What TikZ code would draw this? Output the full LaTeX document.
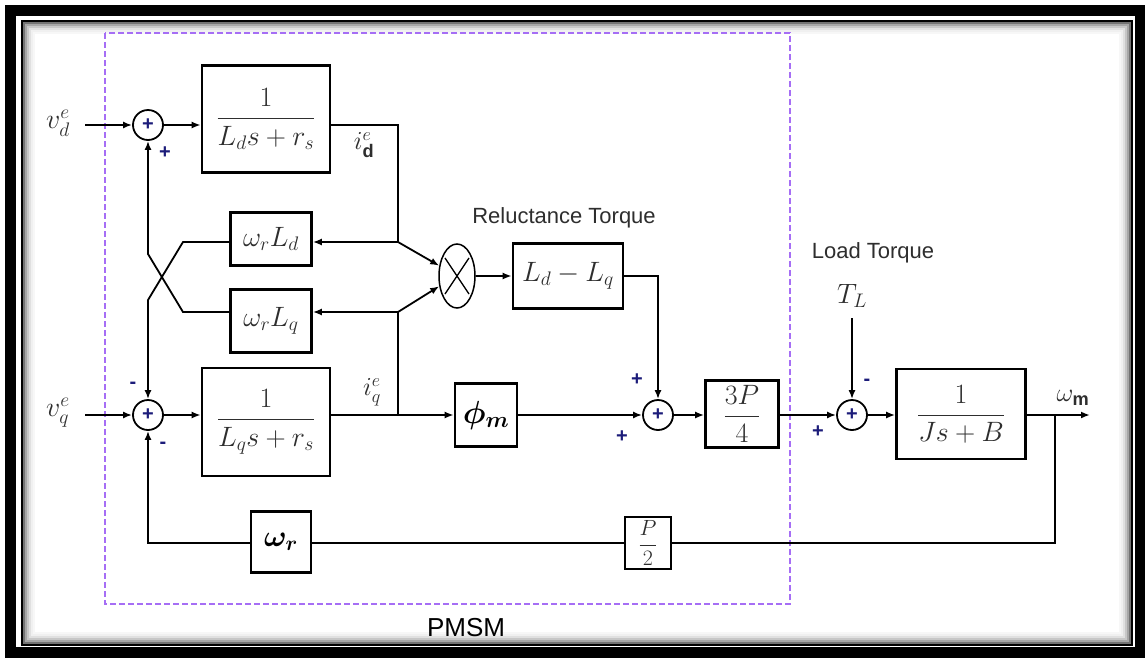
\RequirePackage{fix-cm}
\documentclass[tikz,border=0pt]{standalone}
\usepackage{amsmath}
\usepackage{fontspec}
\newfontfamily\arialf{Liberation Sans}
\usetikzlibrary{arrows.meta,shapes.geometric}
\newcommand\setfs[1]{\fontsize{#1}{#1}\selectfont}
\definecolor{pviolet}{HTML}{A66EF5}
\definecolor{signblue}{HTML}{1C1C7A}
\definecolor{txtgray}{HTML}{2E2E2E}
\tikzset{
 blk/.style={draw, line width=2.6pt, inner sep=0pt, text=txtgray, font=\setfs{28}},
 sumj/.style={draw, circle, line width=1.8pt, minimum size=30pt, inner sep=0pt, font=\arialf\bfseries\setfs{20}, text=signblue},
 conn/.style={line width=1.8pt},
 arr/.style={conn, -{Latex[length=9pt,width=7pt]}},
 sign/.style={font=\arialf\bfseries\setfs{20}, text=signblue, inner sep=0pt},
 lbl/.style={text=txtgray, font=\setfs{28}, inner sep=0pt},
 sans/.style={font=\arialf\setfs{22}, text=txtgray, inner sep=0pt},
}
\begin{document}
\begin{tikzpicture}[x=1pt,y=-1pt]
\useasboundingbox (0,0) rectangle (1145,659);
\fill[white] (0,0) rectangle (1145,659);
% frame with inner shadow
\foreach \i/\c in {0/55,2/35,4/22,6/12,8/6,10/3}
  \draw[line width=2pt, black!\c] (24+\i,23+\i) rectangle (1130-\i,643-\i);
\draw[line width=2pt] (22,21) rectangle (1132,645);
\draw[line width=11pt] (10.5,10.5) rectangle (1140,652.5);

% PMSM boundary
\draw[pviolet, line width=1.5pt, dash pattern=on 6pt off 3pt] (105,33) rectangle (790,604);

% summing junctions
\node[sumj] (s1) at (148,125) {+};
\node[sumj] (s2) at (148,415) {+};
\node[sumj] (s3) at (658,415) {+};
\node[sumj] (s4) at (852,415) {+};

% blocks
\node[blk, minimum width=128pt, minimum height=107pt] (b1) at (266,119) {$\dfrac{1}{L_d s+r_s}$};
\node[blk, minimum width=128pt, minimum height=108pt] (b2) at (266,422) {$\dfrac{1}{L_q s+r_s}$};
\node[blk, minimum width=81pt, minimum height=53pt] (wLd) at (271,239) {$\omega_r L_d$};
\node[blk, minimum width=81pt, minimum height=63pt] (wLq) at (271,321) {$\omega_r L_q$};
\node[draw, ellipse, line width=1.5pt, minimum width=36pt, minimum height=64pt, inner sep=0pt] (mult) at (457,276) {};
\draw[line width=1.3pt] (mult.center) ++(-12,-18) -- ++(24,36);
\draw[line width=1.3pt] (mult.center) ++(12,-18) -- ++(-24,36);
\node[blk, minimum width=110pt, minimum height=65pt] (LdLq) at (568,276) {$L_d-L_q$};
\node[blk, minimum width=62pt, minimum height=63pt, text=black, font=\setfs{32}] (phi) at (486,415) {$\boldsymbol{\phi_m}$};
\node[blk, minimum width=73pt, minimum height=67pt] (P34) at (742,414) {$\dfrac{3P}{4}$};
\node[blk, minimum width=129pt, minimum height=90pt] (J) at (961,414) {$\dfrac{1}{Js+B}$};
\node[blk, line width=2.8pt, minimum width=46pt, minimum height=52pt, font=\setfs{22}] (P2) at (648,543) {$\dfrac{P}{2}$};
\node[blk, minimum width=60pt, minimum height=61pt, text=black, font=\setfs{30}] (wr) at (281,542) {$\boldsymbol{\omega_r}$};

% inputs
\node[lbl] (vd) at (58,123) {$v^e_d$};
\node[lbl] (vq) at (58,413) {$v^e_q$};
\coordinate (vdin) at (85,125);
\coordinate (vqin) at (85,415);
\draw[arr] (vdin) -- (s1.west);
\draw[arr] (vqin) -- (s2.west);

% d path
\coordinate (A) at (398,242);
\coordinate (B) at (398,312);
\coordinate (Q) at (398,415);
\draw[arr] (s1.east) -- (s1 -| b1.west);
\draw[conn] (b1.east |- s1) -- (398,125) -- (A);
\draw[arr] (A) -- (A -| wLd.east);
\draw[arr] (A) -- (mult.150);
\draw[arr] (s2.east) -- (s2 -| b2.west);
\draw[arr] (b2.east |- s2) -- (phi.west);
\draw[conn] (Q) -- (B);
\draw[arr] (B) -- (B -| wLq.east);
\draw[arr] (B) -- (mult.210);

% cross coupling
\draw[arr] (wLd.west |- A) -- (183,242) -- (148,300) -- (s2.north);
\draw[arr] (wLq.west |- B) -- (183,312) -- (148,254) -- (s1.south);

% torque
\draw[arr] (mult.east) -- (LdLq.west);
\draw[arr] (LdLq.east) -- (s3 |- LdLq.east) -- (s3.north);
\draw[arr] (phi.east) -- (s3.west);
\draw[arr] (s3.east) -- (P34.west |- s3);
\draw[arr] (P34.east |- s4) -- (s4.west);
\node[lbl] (TL) at (852,296) {$T_L$};
\coordinate (TLin) at (852,318);
\draw[arr] (TLin) -- (s4.north);
\draw[arr] (s4.east) -- (J.west |- s4);
\coordinate (out) at (1090,415);
\coordinate (br) at (1055,415);
\draw[arr] (J.east |- s4) -- (out);

% feedback
\draw[conn] (br) -- (1055,543) -- (P2.east |- 0,543);
\draw[conn] (P2.west |- 0,543) -- (wr.east |- 0,543);
\draw[arr] (wr.west |- 0,543) -- (148,543) -- (s2.south);

% labels
\node[lbl, font=\setfs{26}] (id) at (364,145) {$i^e_{\text{\arialf\bfseries d}}$};
\node[lbl, font=\setfs{26}] (iq) at (372,392) {$i^e_q$};
\node[lbl, font=\setfs{26}] (wm) at (1073,398) {$\omega_{\text{\arialf\bfseries m}}$};
\node[sans] (rt) at (564,218) {Reluctance Torque};
\node[sans] (lt) at (873,253) {Load Torque};
\node[sans, text=black, font=\arialf\setfs{26}] (pm) at (466,628) {PMSM};

% signs
\node[sign] (p1) at (165,153) {+};
\node[sign] (m1) at (133,385) {-};
\node[sign] (m2) at (163,445) {-};
\node[sign] (p2) at (637,380) {+};
\node[sign] (p3) at (622,437) {+};
\node[sign] (m3) at (867,382) {-};
\node[sign] (p4) at (818,432) {+};
\end{tikzpicture}
\end{document}
